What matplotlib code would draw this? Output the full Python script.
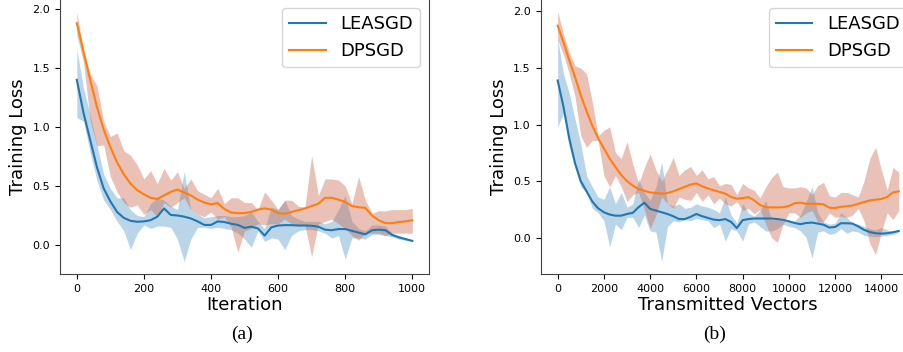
import numpy as np
import matplotlib
matplotlib.use("Agg")
import matplotlib.pyplot as plt

# ---- panel (a): loss vs iteration ----
iters = list(range(0, 1001, 20))

leasgd_a = [1.40, 1.12, 0.89, 0.66, 0.48, 0.37, 0.28, 0.23, 0.205, 0.197, 0.20,
            0.21, 0.24, 0.31, 0.255, 0.25, 0.24, 0.225, 0.20, 0.17, 0.17,
            0.20, 0.195, 0.18, 0.17, 0.145, 0.155, 0.14, 0.08, 0.15, 0.165,
            0.168, 0.168, 0.165, 0.165, 0.163, 0.155, 0.13, 0.125, 0.135, 0.135,
            0.12, 0.105, 0.09, 0.125, 0.13, 0.125, 0.085, 0.065, 0.05, 0.035]
leasgd_a_lo = [1.08, 1.05, 0.78, 0.55, 0.38, 0.30, 0.20, 0.12, -0.04, 0.10, 0.17,
               0.14, 0.16, 0.16, 0.15, 0.05, -0.14, 0.05, 0.15, 0.15, 0.14,
               0.15, 0.14, 0.13, 0.10, 0.05, -0.02, 0.12, 0.03, 0.06, 0.05,
               -0.04, 0.08, 0.12, 0.13, 0.13, 0.12, 0.10, 0.06, 0.08, -0.12,
               0.06, 0.06, 0.05, 0.09, 0.09, 0.08, 0.07, 0.05, 0.04, 0.03]
leasgd_a_hi = [1.66, 1.33, 1.10, 0.85, 0.60, 0.48, 0.40, 0.40, 0.30, 0.25, 0.24,
               0.35, 0.40, 0.38, 0.33, 0.30, 0.62, 0.30, 0.26, 0.23, 0.24,
               0.25, 0.25, 0.24, 0.24, 0.25, 0.28, 0.20, 0.14, 0.32, 0.30,
               0.38, 0.25, 0.22, 0.20, 0.20, 0.20, 0.18, 0.20, 0.30, 0.42,
               0.20, 0.14, 0.12, 0.17, 0.17, 0.16, 0.10, 0.08, 0.06, 0.04]

dpsgd_a = [1.88, 1.64, 1.40, 1.17, 0.98, 0.83, 0.70, 0.60, 0.52, 0.465, 0.43,
           0.40, 0.39, 0.42, 0.45, 0.47, 0.445, 0.42, 0.385, 0.36, 0.345,
           0.355, 0.305, 0.275, 0.27, 0.27, 0.28, 0.30, 0.31, 0.30, 0.27,
           0.265, 0.28, 0.295, 0.31, 0.33, 0.35, 0.40, 0.40, 0.385, 0.365,
           0.33, 0.32, 0.315, 0.25, 0.21, 0.185, 0.185, 0.195, 0.20, 0.21]
dpsgd_a_lo = [1.78, 1.55, 1.05, 0.84, 0.85, 0.58, 0.45, 0.36, 0.32, 0.34, 0.26,
              0.30, 0.24, 0.36, 0.32, 0.36, 0.40, 0.30, 0.26, 0.24, 0.28,
              0.22, 0.24, 0.15, -0.06, 0.12, 0.14, 0.18, 0.17, 0.18, 0.18,
              0.22, 0.18, 0.16, 0.17, -0.10, 0.18, 0.20, 0.22, 0.18, 0.14,
              0.08, 0.04, 0.10, 0.10, 0.10, 0.08, 0.10, 0.10, 0.10, 0.10]
dpsgd_a_hi = [1.98, 1.64, 1.45, 1.35, 1.05, 0.92, 0.95, 0.80, 0.76, 0.68, 0.56,
              0.63, 0.52, 0.65, 0.55, 0.62, 0.48, 0.56, 0.46, 0.43, 0.40,
              0.48, 0.35, 0.40, 0.40, 0.36, 0.36, 0.30, 0.45, 0.38, 0.30,
              0.38, 0.38, 0.33, 0.32, 0.76, 0.42, 0.56, 0.56, 0.55, 0.50,
              0.35, 0.58, 0.38, 0.27, 0.29, 0.29, 0.30, 0.30, 0.30, 0.31]

# ---- panel (b): loss vs transmitted vectors ----
vectors = list(range(0, 15000, 250))

leasgd_b = [1.39, 1.16, 0.88, 0.66, 0.50, 0.41, 0.32, 0.26, 0.225, 0.205,
            0.195, 0.195, 0.21, 0.22, 0.27, 0.31, 0.255, 0.24, 0.225, 0.21,
            0.19, 0.165, 0.165, 0.185, 0.21, 0.19, 0.175, 0.16, 0.155, 0.165,
            0.14, 0.085, 0.155, 0.165, 0.17, 0.17, 0.17, 0.17, 0.165, 0.158,
            0.145, 0.13, 0.12, 0.13, 0.134, 0.125, 0.115, 0.09, 0.095, 0.128,
            0.128, 0.125, 0.10, 0.07, 0.05, 0.04, 0.036, 0.04, 0.048, 0.06]
leasgd_b_lo = [0.98, 1.10, 0.80, 0.62, 0.45, 0.40, 0.26, 0.22, 0.15, -0.08,
               0.12, 0.07, 0.18, 0.18, 0.09, 0.20, 0.06, 0.05, -0.21, 0.10,
               0.15, 0.14, 0.16, 0.15, 0.17, 0.16, 0.15, 0.09, 0.12, -0.03,
               0.08, 0.06, -0.03, 0.12, 0.14, 0.10, 0.06, 0.06, 0.08, 0.12,
               0.10, 0.09, 0.06, 0.00, -0.18, 0.05, 0.06, 0.03, 0.04, 0.08,
               0.04, 0.06, 0.05, 0.02, 0.015, 0.01, 0.015, 0.02, 0.03, 0.05]
leasgd_b_hi = [1.76, 1.45, 1.28, 1.05, 0.83, 0.55, 0.45, 0.36, 0.34, 0.45,
               0.30, 0.40, 0.27, 0.30, 0.52, 0.40, 0.33, 0.45, 0.67, 0.30,
               0.28, 0.30, 0.26, 0.27, 0.30, 0.28, 0.27, 0.25, 0.22, 0.36,
               0.20, 0.13, 0.30, 0.22, 0.19, 0.24, 0.33, 0.16, 0.16, 0.15,
               0.15, 0.15, 0.20, 0.32, 0.45, 0.22, 0.14, 0.12, 0.13, 0.22,
               0.18, 0.13, 0.12, 0.10, 0.08, 0.07, 0.09, 0.07, 0.05, 0.07]

dpsgd_b = [1.875, 1.73, 1.57, 1.42, 1.26, 1.12, 0.99, 0.88, 0.79, 0.70,
           0.625, 0.555, 0.50, 0.46, 0.43, 0.415, 0.40, 0.395, 0.39, 0.395,
           0.41, 0.43, 0.45, 0.47, 0.48, 0.455, 0.435, 0.42, 0.405, 0.39,
           0.36, 0.345, 0.35, 0.36, 0.33, 0.29, 0.27, 0.268, 0.268, 0.27,
           0.28, 0.305, 0.31, 0.30, 0.30, 0.30, 0.295, 0.265, 0.262, 0.274,
           0.278, 0.285, 0.30, 0.315, 0.33, 0.337, 0.342, 0.36, 0.40, 0.41]
dpsgd_b_lo = [1.75, 1.62, 1.45, 1.25, 0.90, 0.80, 0.86, 0.86, 0.55, 0.45,
              0.55, 0.45, 0.32, 0.38, 0.40, 0.25, 0.08, 0.20, 0.36, 0.30,
              0.26, 0.36, 0.34, 0.33, 0.40, 0.32, 0.38, 0.30, 0.35, 0.30,
              0.28, 0.32, 0.24, 0.26, 0.21, 0.25, 0.12, 0.00, -0.04, 0.12,
              0.22, 0.22, 0.18, 0.22, 0.24, 0.14, 0.14, 0.22, 0.18, 0.19,
              0.18, 0.20, 0.26, 0.15, -0.05, -0.15, 0.05, 0.22, 0.16, 0.24]
dpsgd_b_hi = [2.00, 1.80, 1.64, 1.52, 1.50, 1.45, 1.20, 0.90, 0.95, 0.98,
              0.75, 0.70, 0.85, 0.65, 0.48, 0.62, 0.74, 0.60, 0.50, 0.60,
              0.71, 0.55, 0.60, 0.63, 0.55, 0.60, 0.52, 0.54, 0.46, 0.48,
              0.47, 0.38, 0.48, 0.44, 0.42, 0.35, 0.45, 0.53, 0.58, 0.45,
              0.44, 0.44, 0.45, 0.44, 0.38, 0.46, 0.49, 0.37, 0.36, 0.40,
              0.40, 0.38, 0.36, 0.50, 0.70, 0.80, 0.60, 0.42, 0.62, 0.58]

blue = "#1f77b4"
orange = "#ff7f0e"
blue_fill = "#1f77b4"
orange_fill = "#c8644a"

fig = plt.figure(figsize=(9.04, 3.52), dpi=100)
ax1 = fig.add_axes([0.0664, 0.2216, 0.4082, 0.7814])
ax2 = fig.add_axes([0.598, 0.2216, 0.415, 0.7814])

panels = [
    (ax1, iters, leasgd_a, leasgd_a_lo, leasgd_a_hi, dpsgd_a, dpsgd_a_lo, dpsgd_a_hi, "Iteration"),
    (ax2, vectors, leasgd_b, leasgd_b_lo, leasgd_b_hi, dpsgd_b, dpsgd_b_lo, dpsgd_b_hi, "Transmitted Vectors"),
]

for ax, x, lm, llo, lhi, dm, dlo, dhi, xlabel in panels:
    ax.fill_between(x, llo, lhi, color=blue_fill, alpha=0.3, linewidth=0)
    ax.fill_between(x, dlo, dhi, color=orange_fill, alpha=0.4, linewidth=0)
    ax.plot(x, lm, color=blue, lw=1.5, label="LEASGD")
    ax.plot(x, dm, color=orange, lw=1.5, label="DPSGD")
    ax.set_xlabel(xlabel, fontsize=13, labelpad=2)
    ax.set_ylabel("Training Loss", fontsize=13)
    ax.set_yticks([0.0, 0.5, 1.0, 1.5, 2.0])
    ax.tick_params(labelsize=8)
    ax.legend(loc="upper right", fontsize=13)
    for s in ax.spines.values():
        s.set_color("#444444")

ax1.set_xticks([0, 200, 400, 600, 800, 1000])
ax2.set_xticks(list(range(0, 15000, 2000)))

fig.text(242 / 904, 0.051, "(a)", ha="center", va="center",
         fontsize=14, family="Liberation Serif")
fig.text(715 / 904, 0.051, "(b)", ha="center", va="center",
         fontsize=14, family="Liberation Serif")

fig.savefig("out.png", dpi=100)
